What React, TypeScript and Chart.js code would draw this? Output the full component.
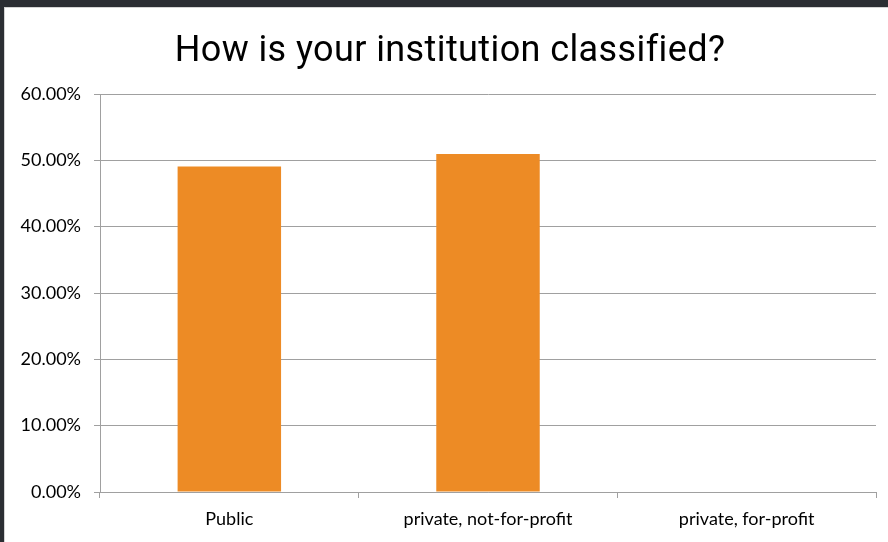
import React, { useEffect, useRef } from "react";
import { Chart, registerables } from "chart.js";

Chart.register(...registerables);

const categories = ["Public", "private, not-for-profit", "private, for-profit"];
const shares = [49.06, 50.94, 0];
const yTicksMax = 60;
const yTickStep = 10;
const titleText = "How is your institution classified?";

const titlePlugin = {
  id: "customTitle",
  afterDraw(chart: any) {
    const ctx = chart.ctx as CanvasRenderingContext2D;
    ctx.save();
    (ctx as any).letterSpacing = "0.4px";
    ctx.font = "400 36px Roboto";
    ctx.fillStyle = "#000";
    ctx.textAlign = "center";
    ctx.textBaseline = "alphabetic";
    ctx.fillText(titleText, 445, 53);
    ctx.restore();
  },
};

export default function App() {
  const ref = useRef<HTMLCanvasElement | null>(null);

  useEffect(() => {
    document.body.style.margin = "0";
    document.body.style.background = "#2b2e33";
    document.body.style.overflow = "hidden";
    const canvas = ref.current;
    if (!canvas) return;
    const chart = new Chart(canvas, {
      type: "bar",
      data: {
        labels: categories,
        datasets: [
          {
            data: shares,
            backgroundColor: "#ED8B25",
            borderWidth: 0,
            categoryPercentage: 1,
            barPercentage: 0.4,
          },
        ],
      },
      options: {
        animation: false,
        responsive: false,
        maintainAspectRatio: false,
        layout: { padding: { left: 0, right: 12, top: 86, bottom: 0 } },
        plugins: {
          legend: { display: false },
          tooltip: { enabled: false },
          title: { display: false },
        },
        scales: {
          x: {
            grid: {
              display: true,
              drawOnChartArea: false,
              drawTicks: true,
              tickLength: 6,
              color: "#a0a0a0",
              offset: true,
            },
            border: { display: true, color: "#a0a0a0", width: 1 },
            ticks: {
              color: "#000",
              font: { family: "Lato", size: 18 },
              padding: 10,
              maxRotation: 0,
            },
            afterFit: (s: any) => {
              s.height = 50;
            },
          },
          y: {
            min: 0,
            max: yTicksMax,
            grid: {
              color: "#a0a0a0",
              lineWidth: 1,
              tickLength: 6,
            },
            border: { display: true, color: "#a0a0a0", width: 1 },
            ticks: {
              stepSize: yTickStep,
              color: "#000",
              font: { family: "Lato", size: 18 },
              padding: 13,
              callback: (v: any) => Number(v).toFixed(2) + "%",
            },
            afterFit: (s: any) => {
              s.width = 95;
            },
          },
        },
      },
      plugins: [titlePlugin],
    });
    return () => chart.destroy();
  }, []);

  return (
    <div
      style={{
        position: "absolute",
        left: 4,
        top: 7,
        width: 884,
        height: 535,
        background: "#fff",
        borderLeft: "1px solid #d4d4d4",
        borderTop: "1px solid #d4d4d4",
        overflow: "hidden",
      }}
    >
      <canvas ref={ref} width={883} height={534} style={{ display: "block", width: 883, height: 534 }} />
    </div>
  );
}
